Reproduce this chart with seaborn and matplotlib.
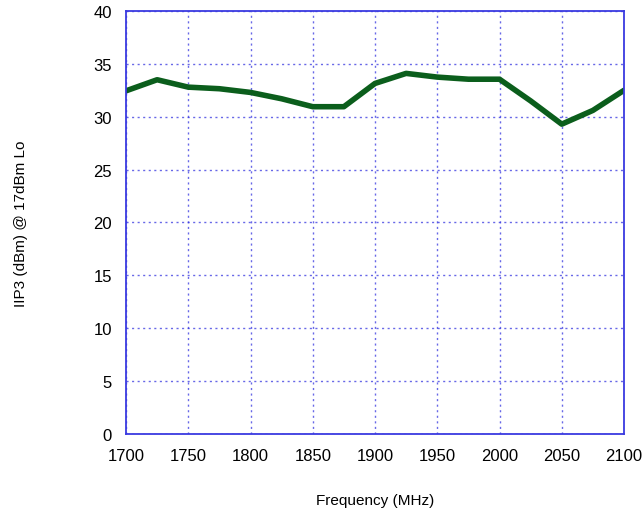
import matplotlib
matplotlib.use("Agg")
import matplotlib.pyplot as plt
import seaborn as sns
import pandas as pd

freq_mhz = [1700, 1725, 1750, 1775, 1800, 1825, 1850, 1875, 1900, 1925, 1950, 1975, 2000, 2025, 2050, 2075, 2100]
iip3_dbm = [32.45, 33.5, 32.8, 32.65, 32.3, 31.7, 30.95, 30.95, 33.15, 34.1, 33.75, 33.55, 33.55, 31.5, 29.3, 30.6, 32.5]
x_ticks = [1700, 1750, 1800, 1850, 1900, 1950, 2000, 2050, 2100]
y_ticks = [0, 5, 10, 15, 20, 25, 30, 35, 40]

df = pd.DataFrame({"freq": freq_mhz, "iip3": iip3_dbm})

sns.set_style("white")
plt.rcParams['font.family'] = ['Liberation Sans', 'DejaVu Sans']
plt.rcParams['text.color'] = 'black'
plt.rcParams['axes.labelcolor'] = 'black'
plt.rcParams['xtick.color'] = 'black'
plt.rcParams['ytick.color'] = 'black'

fig = plt.figure(figsize=(6.44, 5.10), dpi=100)
ax = fig.add_axes([126/644, 75/510, 498/644, 423/510])

sns.lineplot(data=df, x="freq", y="iip3", ax=ax, color="#0b5e1c", linewidth=4.0)

ax.set_xlim(1700, 2100)
ax.set_ylim(0, 40)
ax.set_xticks(x_ticks)
ax.set_yticks(y_ticks)
ax.set_xticklabels([str(v) for v in x_ticks], fontsize=12)
ax.set_yticklabels([str(v) for v in y_ticks], fontsize=12)
ax.tick_params(axis='both', length=0, pad=10, colors='black')
ax.grid(True, color="#3535e0", linestyle=(0, (1.5, 2.5)), linewidth=1.0, alpha=0.75)
for s in ax.spines.values():
    s.set_color("#3a3ae0")
    s.set_linewidth(1.3)
ax.set_xlabel("Frequency (MHz)", fontsize=11, labelpad=22, color='black')
ax.set_ylabel("IIP3 (dBm) @ 17dBm Lo", fontsize=11, labelpad=47, color='black')

fig.savefig("out.png", dpi=100)
